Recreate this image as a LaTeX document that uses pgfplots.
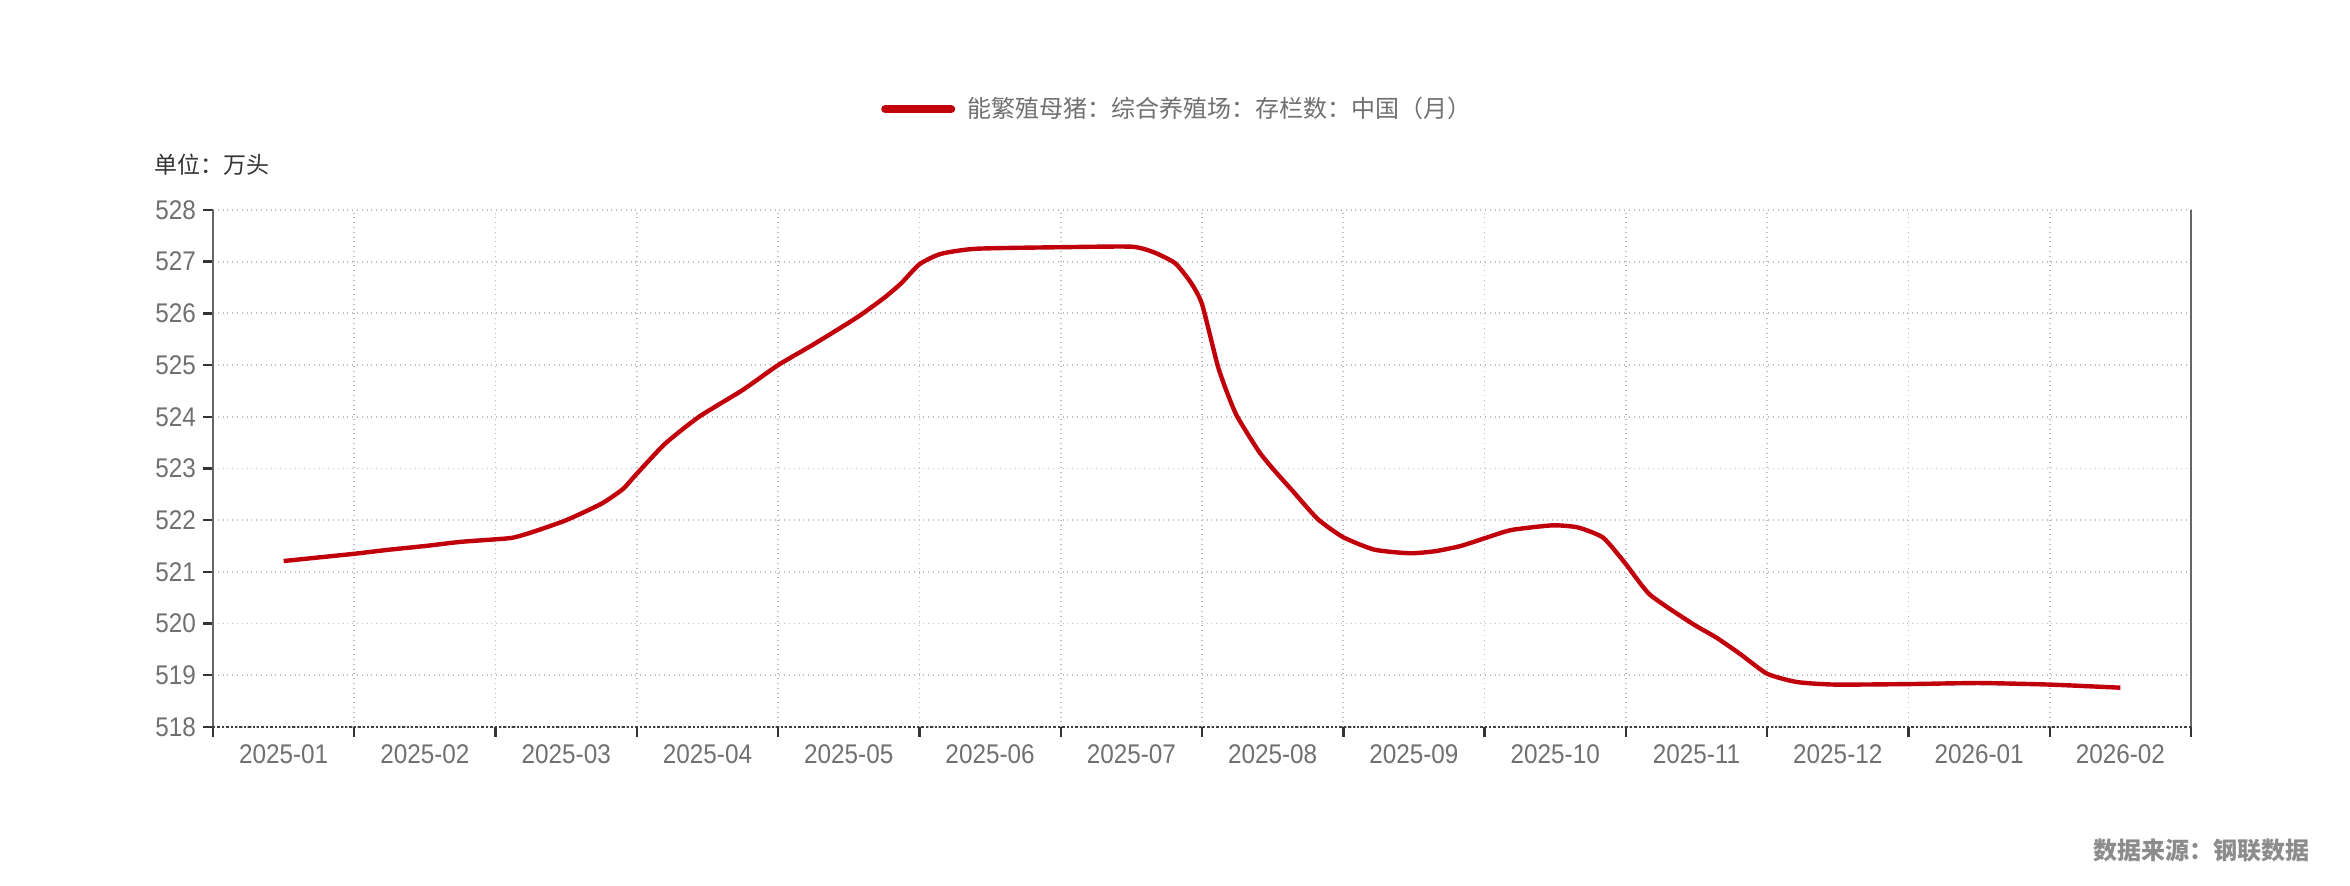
\documentclass[border=0pt]{standalone}
\usepackage{pgfplots}
\pgfplotsset{compat=1.18}
\usepackage{fontspec}
\setmainfont{Liberation Sans}
\newfontfamily\myticksfont[FakeStretch=0.9]{Liberation Sans}
\newfontfamily\cjk{Noto Sans CJK SC}
\definecolor{linered}{HTML}{C0000A}
\definecolor{gridc}{HTML}{BDBDBD}
\definecolor{labc}{HTML}{707070}
\begin{document}
\begin{tikzpicture}
\begin{axis}[
  scale only axis,
  width=989pt, height=258.5pt,
  xmin=-0.5, xmax=13.5,
  ymin=518, ymax=528,
  ytick={518,519,...,528},
  xtick={-0.5,0.5,...,13.5},
  xticklabels={},
  extra x ticks={0,1,...,13},
  extra x tick labels={2025-01,2025-02,2025-03,2025-04,2025-05,2025-06,2025-07,2025-08,2025-09,2025-10,2025-11,2025-12,2026-01,2026-02},
  extra x tick style={grid=none, major tick length=0pt},
  xtick pos=bottom, ytick pos=left,
  grid=major,
  grid style={gridc, dotted, line width=0.9pt},
  axis line style={draw=none},
  tick align=outside,
  major tick length=5pt,
  tick style={black!80, line width=1.2pt},
  /pgf/number format/assume math mode=true,
  ticklabel style={font=\myticksfont\fontsize{13.5}{15}\selectfont, text=labc},
  yticklabel style={xshift=0pt},
  xticklabel style={yshift=-5.5pt},
  legend style={at={(0.49,1.195)}, anchor=center, draw=none, fill=none,
    font=\cjk\fontsize{12}{14}\selectfont, text=labc,
    nodes={inner xsep=6pt}},
  legend image code/.code={\draw[line width=4pt, line cap=round, linered] (0pt,0pt) -- (33pt,0pt);},
  clip=false,
]
\addplot[linered, line width=2.2pt, smooth, tension=0.35, line join=round] coordinates {
(0,521.21) (0.25,521.28) (0.5,521.35) (0.75,521.43) (1,521.50) (1.25,521.58) (1.5,521.63) (1.62,521.66) (1.75,521.76) (2,522.0) (2.25,522.32) (2.4,522.6) (2.5,522.9) (2.7,523.48) (2.94,524.0) (3.25,524.52) (3.5,525.0) (3.75,525.4) (4.0,525.82) (4.1,526.0) (4.25,526.3) (4.37,526.58) (4.5,526.95) (4.65,527.15) (4.9,527.25) (5.5,527.28) (6.0,527.29) (6.16,527.18) (6.31,526.97) (6.42,526.6) (6.5,526.18) (6.61,525.0) (6.68,524.45) (6.75,524.0) (6.9,523.34) (7.0,523.0) (7.14,522.57) (7.32,522.02) (7.5,521.67) (7.72,521.43) (7.97,521.36) (8.15,521.40) (8.33,521.5) (8.5,521.65) (8.69,521.81) (8.98,521.90) (9.16,521.86) (9.34,521.66) (9.5,521.15) (9.67,520.56) (9.97,520.0) (10.14,519.73) (10.31,519.41) (10.5,519.03) (10.71,518.87) (10.98,518.82) (11.5,518.83) (12,518.85) (12.5,518.82) (13,518.76)
};
\addlegendentry{能繁殖母猪：综合养殖场：存栏数：中国（月）}
\draw[black!60, line width=1pt] (rel axis cs:0,0) -- (rel axis cs:0,1);
\draw[black!60, line width=1pt] (rel axis cs:1,0) -- (rel axis cs:1,1);
\draw[black!75, densely dotted, line width=1.2pt] (rel axis cs:0,0) -- (rel axis cs:1,0);
\end{axis}
\node[anchor=west, font=\cjk\fontsize{11.5}{13}\selectfont, text=black!80] at (-33pt,281pt) {单位：万头};
\node[anchor=east, font=\cjk\bfseries\fontsize{12}{14}\selectfont, text=black!45] at (1052pt,-62pt) {数据来源：钢联数据};
\useasboundingbox (-106.5pt,-79.5pt) rectangle (1068.5pt,363.5pt);
\end{tikzpicture}
\end{document}
